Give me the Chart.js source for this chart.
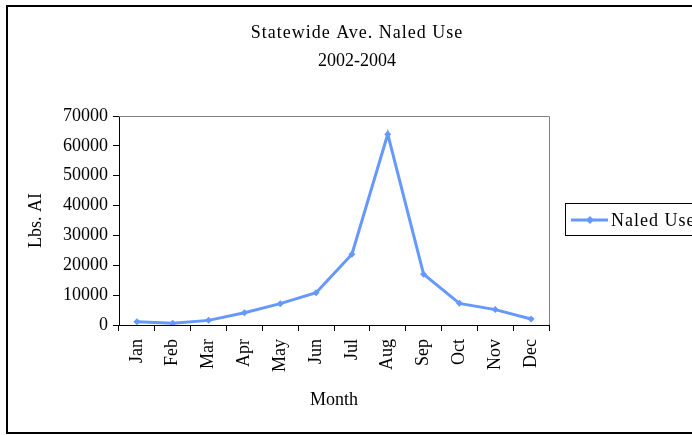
<!DOCTYPE html>
<html>
<head>
<meta charset="utf-8">
<script src="https://cdn.jsdelivr.net/npm/chart.js@4"></script>
<style>
  body { margin: 0; background: #fff; }
  canvas { display: block; }
</style>
</head>
<body>
<canvas id="naledChart" width="692" height="435"></canvas>
<script>
const months = ["Jan", "Feb", "Mar", "Apr", "May", "Jun", "Jul", "Aug", "Sep", "Oct", "Nov", "Dec"];
const naledUse = [1100, 550, 1550, 4100, 7150, 10800, 23700, 63900, 17000, 7250, 5150, 2000];
const titleLines = ["Statewide Ave. Naled Use", "2002-2004"];
const seriesName = "Naled Use";
const yTicks = { min: 0, max: 70000, step: 10000 };

const lineColor = "rgb(102,153,255)";
const serif = "'Liberation Serif', 'Times New Roman', serif";

// frame, plot border, title and legend drawn by hand (excel-style)
const excelFrame = {
  id: "excelFrame",
  afterDraw(chart) {
    const ctx = chart.ctx;
    const a = chart.chartArea;
    ctx.save();

    // outer border (right side runs off the picture)
    ctx.strokeStyle = "#000";
    ctx.lineWidth = 2;
    ctx.strokeRect(7, 6, 720, 427);

    // plot area top/right in grey
    ctx.strokeStyle = "#808080";
    ctx.lineWidth = 1;
    ctx.beginPath();
    ctx.moveTo(a.left, a.top + 0.5);
    ctx.lineTo(a.right + 0.5, a.top + 0.5);
    ctx.lineTo(a.right + 0.5, a.bottom);
    ctx.stroke();

    // title
    ctx.fillStyle = "#000";
    ctx.font = "18px " + serif;
    ctx.textAlign = "center";
    ctx.textBaseline = "middle";
    ctx.letterSpacing = "1px";
    ctx.fillText(titleLines[0], 357, 33);
    ctx.letterSpacing = "0px";
    ctx.fillText(titleLines[1], 357, 61);

    // legend box
    ctx.strokeStyle = "#000";
    ctx.lineWidth = 1;
    ctx.strokeRect(565.5, 203.5, 200, 32);
    ctx.strokeStyle = lineColor;
    ctx.lineWidth = 3;
    ctx.beginPath();
    ctx.moveTo(571, 220);
    ctx.lineTo(608, 220);
    ctx.stroke();
    ctx.fillStyle = lineColor;
    ctx.beginPath();
    ctx.moveTo(590, 216);
    ctx.lineTo(594, 220);
    ctx.lineTo(590, 224);
    ctx.lineTo(586, 220);
    ctx.closePath();
    ctx.fill();
    ctx.fillStyle = "#000";
    ctx.textAlign = "left";
    ctx.letterSpacing = "1px";
    ctx.fillText(chart.data.datasets[0].label, 611, 221);

    ctx.restore();
  }
};

document.addEventListener("DOMContentLoaded", function () {
  const naledCtx = document.getElementById("naledChart");
  if (naledCtx) {
    new Chart(naledCtx, {
      type: "line",
      data: {
        labels: months,
        datasets: [
          {
            label: seriesName,
            data: naledUse,
            borderColor: lineColor,
            backgroundColor: lineColor,
            borderWidth: 3,
            pointStyle: "rectRot",
            pointRadius: 3.5,
            pointBorderWidth: 0,
            tension: 0,
          },
        ],
      },
      options: {
        responsive: false,
        animation: false,
        layout: { padding: { left: 0, top: 116, right: 143, bottom: 0 } },
        plugins: {
          legend: { display: false },
          title: { display: false },
          tooltip: { enabled: false },
        },
        scales: {
          x: {
            offset: true,
            grid: { offset: true, drawOnChartArea: false, drawTicks: true, tickLength: 6, color: "#000" },
            border: { color: "#000", width: 1 },
            ticks: {
              color: "#000",
              font: { family: serif, size: 18 },
              maxRotation: 90,
              minRotation: 90,
              padding: 8,
              autoSkip: false,
            },
            title: {
              display: true,
              text: "Month",
              color: "#000",
              font: { family: serif, size: 18 },
              padding: { top: 4, bottom: 24 },
            },
            afterFit(scale) { scale.height = 110; },
          },
          y: {
            min: yTicks.min,
            max: yTicks.max,
            grid: { drawOnChartArea: false, drawTicks: true, tickLength: 6, color: "#000" },
            border: { color: "#000", width: 1 },
            ticks: {
              stepSize: yTicks.step,
              color: "#000",
              font: { family: serif, size: 18 },
              padding: 5,
              callback: (v) => String(v),
            },
            title: {
              display: true,
              text: "Lbs. AI",
              color: "#000",
              font: { family: serif, size: 18 },
              padding: { top: 25, bottom: 4 },
            },
            afterFit(scale) { scale.width = 119; },
          },
        },
      },
      plugins: [excelFrame],
    });
  }
});
</script>
</body>
</html>
